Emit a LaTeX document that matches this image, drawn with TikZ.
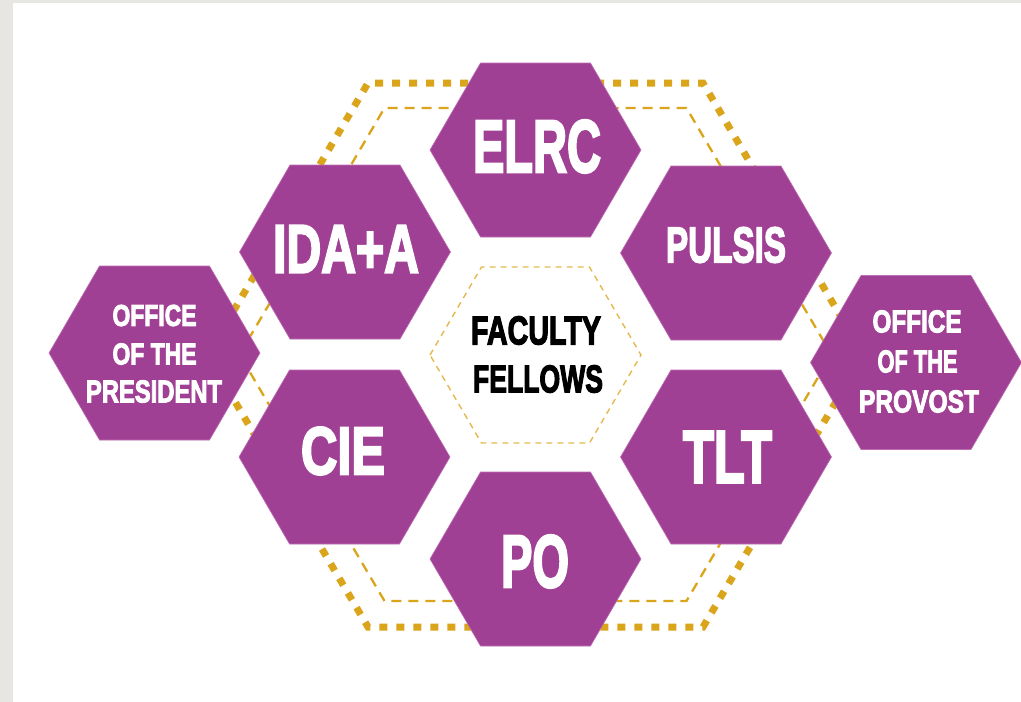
\documentclass[tikz,border=0pt]{standalone}
\usepackage{fontspec}
\usepackage{graphicx}
\newfontfamily\hexfont{Liberation Sans}[BoldFeatures={FakeBold=3.5}]
\definecolor{hexpurple}{RGB}{160,64,148}
\definecolor{hexedge}{RGB}{190,110,180}
\definecolor{goldline}{RGB}{218,165,27}
\definecolor{lightgold}{RGB}{228,186,80}
\definecolor{bggrey}{RGB}{232,230,226}
\newcommand\lbl[3]{\resizebox{#1pt}{#2pt}{\hexfont\bfseries #3}}
\newcommand\hexpath{(-105.5,0) -- (-55,-87) -- (55,-87) -- (105.5,0) -- (55,87) -- (-55,87) -- cycle}
\tikzset{
  hexfill/.style={fill=hexpurple, draw=hexedge, line width=0.6pt},
  outerdots/.style={draw=goldline, line width=7pt, dash pattern=on 8pt off 9pt},
  innerdash/.style={draw=goldline, line width=2.3pt, dash pattern=on 10pt off 7pt},
  centerdash/.style={draw=lightgold, line width=1.4pt, dash pattern=on 6pt off 5pt},
  wlabel/.style={inner sep=0pt, text=white},
  blabel/.style={inner sep=0pt, text=black}
}
\begin{document}
\begin{tikzpicture}[x=1pt,y=-1pt]
\useasboundingbox (0,0) rectangle (1021,702);
\fill[bggrey] (0,0) rectangle (1021,702);
\fill[white] (13,3) rectangle (1021,702);
% outer frames
\draw[outerdots] (207.5,355) -- (368,83) -- (703,83) -- (863.5,355) -- (703,627) -- (368,627) -- cycle;
\draw[innerdash] (239.5,354.5) -- (384.5,108) -- (686.5,108) -- (831.5,354.5) -- (686.5,601) -- (384.5,601) -- cycle;
% centre
\draw[centerdash] (430,355) -- (481.5,267) -- (589.5,267) -- (641,355) -- (589.5,443) -- (481.5,443) -- cycle;
% hexagon centres
\coordinate (cELRC) at (535.5,150);
\coordinate (cIDA) at (345,252);
\coordinate (cPULSIS) at (726,253);
\coordinate (cCIE) at (344.5,457);
\coordinate (cTLT) at (726,457);
\coordinate (cPO) at (535.5,559);
\coordinate (cPRES) at (154.5,353);
\coordinate (cPROV) at (916,362.5);
\foreach \c in {cELRC,cIDA,cPULSIS,cCIE,cTLT,cPO,cPRES,cPROV}
  \fill[hexfill,shift={(\c)}] \hexpath;
% labels
\node[wlabel] (elrc) at (537,146.5) {\lbl{128}{52}{ELRC}};
\node[wlabel] (ida) at (346,249) {\lbl{146}{47}{IDA+A}};
\node[wlabel] (pulsis) at (726,245) {\lbl{120}{35}{PULSIS}};
\node[wlabel] (cie) at (343,451) {\lbl{84}{47}{CIE}};
\node[wlabel] (tlt) at (727.5,457) {\lbl{89}{51}{TLT}};
\node[wlabel] (po) at (535,561.5) {\lbl{68}{52}{PO}};
\node[blabel] (fac1) at (536,330.5) {\lbl{130}{28}{FACULTY}};
\node[blabel] (fac2) at (538,379) {\lbl{130}{27}{FELLOWS}};
\node[wlabel] (pres1) at (154.5,315.5) {\lbl{84}{21}{OFFICE}};
\node[wlabel] (pres2) at (154.5,354) {\lbl{84}{21}{OF THE}};
\node[wlabel] (pres3) at (154,391.5) {\lbl{136}{22}{PRESIDENT}};
\node[wlabel] (prov1) at (917,321.5) {\lbl{89}{22}{OFFICE}};
\node[wlabel] (prov2) at (917.5,361.5) {\lbl{80}{22}{OF THE}};
\node[wlabel] (prov3) at (919,401.5) {\lbl{120}{22}{PROVOST}};
\end{tikzpicture}
\end{document}
